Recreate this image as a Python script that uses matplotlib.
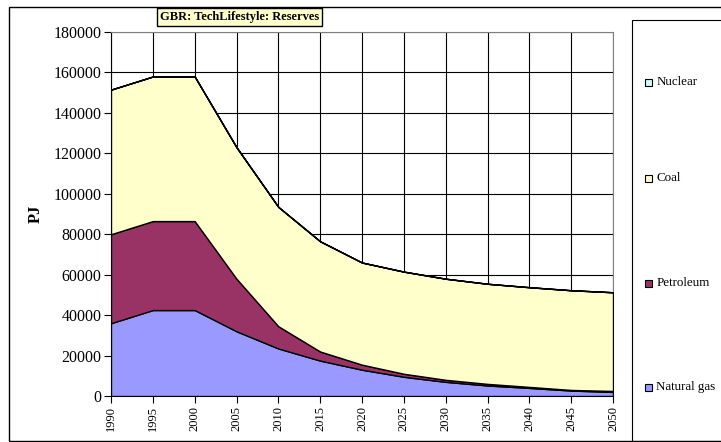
import matplotlib
matplotlib.use("Agg")
import matplotlib.pyplot as plt
from matplotlib.patches import Rectangle

years = [1990, 1995, 2000, 2005, 2010, 2015, 2020, 2025, 2030, 2035, 2040, 2045, 2050]
natural_gas = [36000, 42500, 42500, 32000, 23500, 17500, 13000, 9500, 7000, 5200, 4000, 2700, 2000]
petroleum = [44000, 44000, 44000, 26000, 11000, 4500, 2500, 1500, 1000, 800, 500, 300, 500]
coal = [71500, 71500, 71500, 65000, 59000, 54500, 50500, 50500, 50000, 49500, 49300, 49300, 48800]
nuclear = [0] * 13
series_names = ["Natural gas", "Petroleum", "Coal", "Nuclear"]
colors = ["#9999FF", "#993366", "#FFFFCC", "#CCFFFF"]
yticks = list(range(0, 180001, 20000))

W, H = 721, 442
fig = plt.figure(figsize=(W / 100, H / 100), dpi=100)
plt.rcParams['font.family'] = ['Liberation Serif', 'DejaVu Serif']

def fx(px):
    return px / W

def fy(py):
    return 1 - py / H

# outer border (right edge runs off the image)
fig.patches.append(Rectangle((fx(9), fy(440.5)), fx(730), 434 / H, transform=fig.transFigure,
                             fill=False, edgecolor='black', linewidth=1.0))

ax = fig.add_axes([fx(111), fy(396), fx(502), 364 / H])
ax.set_facecolor('white')
ax.stackplot(years, natural_gas, petroleum, coal, nuclear, colors=colors,
             edgecolor='black', linewidth=1.0, zorder=3)
ax.set_xlim(1990, 2050)
ax.set_ylim(0, 180000)
ax.set_xticks(years)
ax.set_xticklabels([str(y) for y in years], rotation=90, fontsize=9)
ax.set_yticks(yticks)
ax.set_yticklabels([str(v) for v in yticks], fontsize=11.5)
ax.grid(True, color='black', linewidth=0.8, zorder=0)
ax.set_axisbelow(True)
for s in ['top', 'right']:
    ax.spines[s].set_color('#808080')
for s in ['left', 'bottom']:
    ax.spines[s].set_color('black')
ax.tick_params(axis='both', direction='out', length=5, color='black', pad=2)
ax.set_ylabel('PJ', fontsize=12, fontweight='bold', labelpad=7)

# title box
fig.text(fx(239.5), fy(17), 'GBR: TechLifestyle: Reserves', ha='center', va='center',
         fontsize=9, fontweight='bold',
         bbox=dict(boxstyle='square,pad=0.25', facecolor='#FFFFCC', edgecolor='black', linewidth=1.0))

# legend box (right edge runs off the image)
fig.patches.append(Rectangle((fx(632), fy(440.5)), fx(100), 420.5 / H, transform=fig.transFigure,
                             fill=False, edgecolor='black', linewidth=0.8))
legend_y = {"Nuclear": 82, "Coal": 178, "Petroleum": 283, "Natural gas": 387}
for name, c in zip(series_names, colors):
    py = legend_y[name]
    fig.patches.append(Rectangle((fx(645), fy(py + 3.5)), fx(6.5), 6.5 / H, transform=fig.transFigure,
                                 facecolor=c, edgecolor='black', linewidth=0.8))
    fig.text(fx(656.5), fy(py), name, ha='left', va='center', fontsize=9.4)

fig.savefig('out.png', dpi=100)
